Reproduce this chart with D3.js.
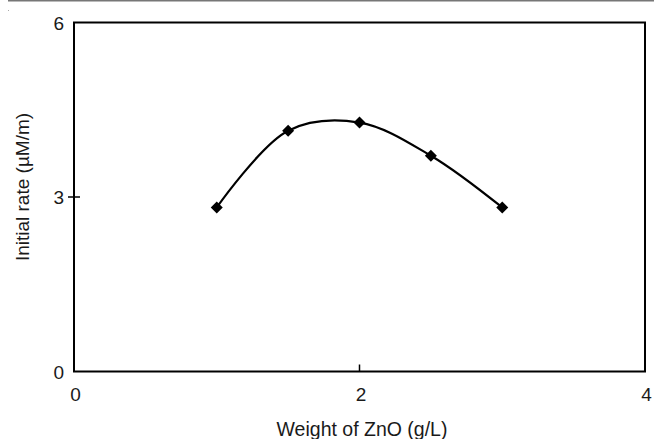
<!DOCTYPE html>
<html>
<head>
<meta charset="utf-8">
<script src="https://cdn.jsdelivr.net/npm/d3@7"></script>
<style>
html,body{margin:0;padding:0;background:#fff;}
svg{display:block;}
text{font-family:"Liberation Sans",Arial,sans-serif;fill:#1a1a1a;}
</style>
</head>
<body>
<svg id="chart" width="657" height="439"></svg>
<script>
const weights = [1, 1.5, 2, 2.5, 3];
const rates = [2.82, 4.14, 4.28, 3.71, 2.82];
const xTicks = [0, 2, 4];
const yTicks = [0, 3, 6];
const xTitle = "Weight of ZnO (g/L)";
const yTitle = "Initial rate (\u00B5M/m)";

const svg = d3.select("#chart");
const pLeft = 74, pRight = 645, pTop = 22.5, pBottom = 371.5;
const x = d3.scaleLinear().domain([0, 4]).range([pLeft, pRight]);
const y = d3.scaleLinear().domain([0, 6]).range([pBottom, pTop]);

// top gray rule
svg.append("line").attr("x1", 8).attr("x2", 654).attr("y1", 0.75).attr("y2", 0.75)
  .attr("stroke", "#777").attr("stroke-width", 1.5);
svg.append("rect").attr("x", 8).attr("y", 10).attr("width", 1).attr("height", 1).attr("fill", "#aaa");

// frame
svg.append("rect").attr("x", pLeft).attr("y", pTop).attr("width", pRight - pLeft).attr("height", pBottom - pTop)
  .attr("fill", "none").attr("stroke", "#000").attr("stroke-width", 2);

// x ticks (inner)
svg.selectAll(".xt").data(xTicks.filter(d => d > 0 && d < 4)).enter().append("line")
  .attr("x1", d => x(d)).attr("x2", d => x(d)).attr("y1", pBottom).attr("y2", pBottom - 7)
  .attr("stroke", "#000").attr("stroke-width", 1.5);
// y ticks (cross)
svg.selectAll(".yt").data(yTicks.filter(d => d > 0 && d < 6)).enter().append("line")
  .attr("x1", pLeft - 6).attr("x2", pLeft + 6).attr("y1", d => y(d)).attr("y2", d => y(d))
  .attr("stroke", "#000").attr("stroke-width", 1.5);

// tick labels
svg.selectAll(".xl").data(xTicks).enter().append("text")
  .attr("x", d => x(d) + 1.5).attr("y", 400.5).attr("text-anchor", "middle")
  .attr("font-size", 19).text(d => d);
svg.selectAll(".yl").data(yTicks).enter().append("text")
  .attr("x", 64).attr("y", d => y(d) + 7).attr("text-anchor", "end")
  .attr("font-size", 19).text(d => d);

// titles
svg.append("text").attr("x", 362).attr("y", 435.5).attr("text-anchor", "middle")
  .attr("font-size", 19.5).text(xTitle);
svg.append("text").attr("transform", "translate(29,187) rotate(-90)").attr("text-anchor", "middle")
  .attr("font-size", 19).text(yTitle);

// curve
const pts = weights.map((w, i) => [w, rates[i]]);
const line = d3.line().x(d => x(d[0])).y(d => y(d[1])).curve(d3.curveCatmullRom.alpha(0.5));
svg.append("path").attr("d", line(pts)).attr("fill", "none").attr("stroke", "#000").attr("stroke-width", 2.2);

// markers
const sym = d3.symbol().type(d3.symbolSquare).size(72);
svg.selectAll(".m").data(pts).enter().append("path")
  .attr("d", sym).attr("transform", d => `translate(${x(d[0])},${y(d[1])}) rotate(45)`)
  .attr("fill", "#000");
</script>
</body>
</html>
